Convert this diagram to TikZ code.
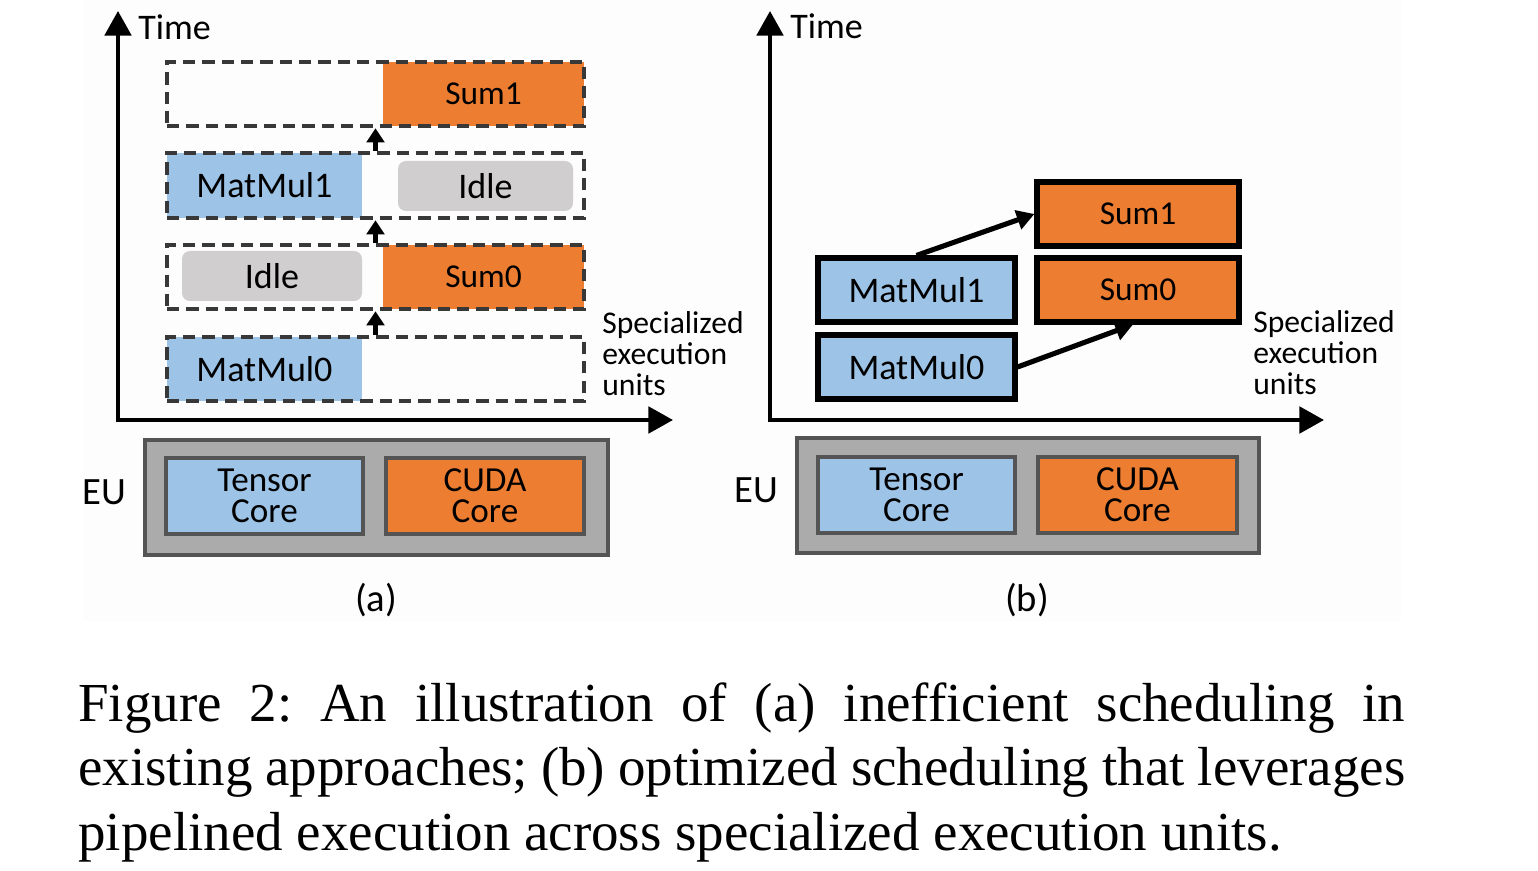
\documentclass[tikz,border=0pt]{standalone}
\usepackage{fontspec}
\setmainfont{Carlito}
\newfontfamily\capfont{Liberation Serif}
\usetikzlibrary{arrows.meta}
\definecolor{tblue}{HTML}{9DC3E6}
\definecolor{torange}{HTML}{ED7D31}
\definecolor{tidle}{HTML}{D0CECE}
\definecolor{eugray}{HTML}{ABABAB}
\definecolor{eubord}{HTML}{545454}
\definecolor{dashc}{HTML}{383838}
\definecolor{bgc}{HTML}{FDFDFD}
\tikzset{
  axis/.style={line width=2.3pt,-{Triangle[length=14pt,width=15pt]}},
  rowbox/.style={draw=dashc,line width=2.6pt,dash pattern=on 7pt off 4pt,inner sep=0pt,minimum width=417*0.02cm},
  fillbox/.style={inner sep=0pt,font=\fontsize{20.5}{20.5}\selectfont},
  sumfont/.style={font=\fontsize{19}{19}\selectfont},
  idlebox/.style={fill=tidle,rounded corners=8*0.02cm,inner sep=0pt,font=\fontsize{20.5}{20.5}\selectfont},
  taskb/.style={draw=black,line width=2.9pt,inner sep=0pt,font=\fontsize{20.5}{20.5}\selectfont},
  smallarr/.style={line width=2.8pt,-{Triangle[length=8pt,width=10pt]}},
  linkarr/.style={line width=2.9pt,-{Triangle[length=10pt,width=11pt]}},
  eubox/.style={fill=eugray,draw=eubord,line width=2.8pt,inner sep=0pt},
  corebox/.style={draw=eubord,line width=2.8pt,inner sep=0pt,align=center,font=\fontsize{20}{17.8}\selectfont},
  lbl/.style={inner sep=0pt,font=\fontsize{20.5}{20.5}\selectfont},
  speclbl/.style={inner sep=0pt,align=left,font=\fontsize{18}{17.6}\selectfont},
}
\begin{document}
\begin{tikzpicture}[x=0.02cm,y=-0.02cm]
\useasboundingbox (0,0) rectangle (1538,871);
\fill[bgc] (83,0) rectangle (1401,621);

% ---------------- (a) ----------------
\coordinate (oa) at (118,420);
\coordinate (ya) at (118,11);
\coordinate (xa) at (673,420);
\draw[axis] (oa) -- (ya);
\draw[axis] ([xshift=-1.15pt]oa) -- (xa);
\node[lbl,anchor=west] (timea) at (138,27) {Time};

\node[fillbox,fill=torange,sumfont,minimum width=201*0.02cm,minimum height=64*0.02cm] (sum1a) at (483.5,94) {Sum1};
\node[fillbox,fill=tblue,minimum width=195*0.02cm,minimum height=65*0.02cm] (mm1a) at (264.5,185.5) {MatMul1};
\node[idlebox,minimum width=175*0.02cm,minimum height=50*0.02cm] (idle1) at (485.5,186) {Idle};
\node[idlebox,minimum width=180*0.02cm,minimum height=50*0.02cm] (idle0) at (272,276) {Idle};
\node[fillbox,fill=torange,sumfont,minimum width=201*0.02cm,minimum height=64*0.02cm] (sum0a) at (483.5,277) {Sum0};
\node[fillbox,fill=tblue,minimum width=195*0.02cm,minimum height=64*0.02cm] (mm0a) at (264.5,369) {MatMul0};

\node[rowbox,minimum height=64*0.02cm] (r1) at (375.5,94) {};
\node[rowbox,minimum height=65*0.02cm] (r2) at (375.5,185.5) {};
\node[rowbox,minimum height=64*0.02cm] (r3) at (375.5,277) {};
\node[rowbox,minimum height=64*0.02cm] (r4) at (375.5,369) {};

\draw[smallarr] (r4.north) -- (r3.south);
\draw[smallarr] (r3.north) -- (r2.south);
\draw[smallarr] (r2.north) -- (r1.south);

\node[speclbl,anchor=north west] (speca) at (602,311) {Specialized\\execution\\units};

\node[eubox,minimum width=463*0.02cm,minimum height=115*0.02cm] (eua) at (376.5,497.5) {};
\node[corebox,fill=tblue,minimum width=197*0.02cm,minimum height=76*0.02cm] (tca) at (264.5,496) {Tensor\\Core};
\node[corebox,fill=torange,minimum width=198*0.02cm,minimum height=76*0.02cm] (cca) at (485,496) {CUDA\\Core};
\node[lbl,font=\fontsize{22}{22}\selectfont] (eula) at (104,492) {EU};
\node[lbl,font=\fontsize{22}{22}\selectfont] (capa) at (376,600) {(a)};

% ---------------- (b) ----------------
\coordinate (ob) at (770,420);
\coordinate (yb) at (770,11);
\coordinate (xb) at (1324,420);
\draw[axis] (ob) -- (yb);
\draw[axis] ([xshift=-1.15pt]ob) -- (xb);
\node[lbl,anchor=west] (timeb) at (790,26) {Time};

\node[taskb,fill=torange,sumfont,minimum width=202*0.02cm,minimum height=64*0.02cm] (sum1b) at (1138,214) {Sum1};
\node[taskb,fill=torange,sumfont,minimum width=202*0.02cm,minimum height=64*0.02cm] (sum0b) at (1138,290) {Sum0};
\node[taskb,fill=tblue,minimum width=197*0.02cm,minimum height=64*0.02cm] (mm1b) at (916.5,290) {MatMul1};
\node[taskb,fill=tblue,minimum width=197*0.02cm,minimum height=64*0.02cm] (mm0b) at (916.5,367) {MatMul0};

\draw[linkarr] (mm1b.north) -- (sum1b.west);
\draw[linkarr] (mm0b.east) -- ([xshift=-5*0.02cm]sum0b.south);

\node[speclbl,anchor=north west] (specb) at (1253,310) {Specialized\\execution\\units};

\node[eubox,minimum width=462*0.02cm,minimum height=115*0.02cm] (eub) at (1028,495.5) {};
\node[corebox,fill=tblue,minimum width=197*0.02cm,minimum height=76*0.02cm] (tcb) at (916.5,495) {Tensor\\Core};
\node[corebox,fill=torange,minimum width=199*0.02cm,minimum height=76*0.02cm] (ccb) at (1137.5,495) {CUDA\\Core};
\node[lbl,font=\fontsize{22}{22}\selectfont] (eulb) at (756,490) {EU};
\node[lbl,font=\fontsize{22}{22}\selectfont] (capb) at (1027,600) {(b)};

% ---------------- caption ----------------
\node[anchor=north west,inner sep=0pt,text width=1327*0.02cm,align=justify,
      font=\capfont\fontsize{31.3}{36.85}\selectfont] (caption) at (78,682)
  {\frenchspacing Figure 2: An illustration of (a) inefficient scheduling in\linebreak existing approaches; (b) optimized scheduling that leverages\linebreak pipelined execution across specialized execution units.};
\end{tikzpicture}
\end{document}
